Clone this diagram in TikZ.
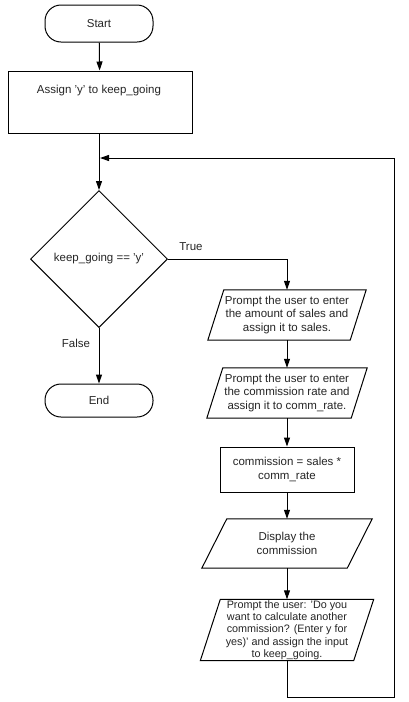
\documentclass[tikz,border=0pt]{standalone}
\usepackage{fontspec}
\setmainfont{Liberation Sans}
\usetikzlibrary{shapes.geometric,arrows.meta}
\newcommand{\paradraw}[2]{\draw[line width=1pt, line join=miter] ([xshift=#2]#1.north west) -- ([xshift=#2]#1.north east) -- ([xshift=-#2]#1.south east) -- ([xshift=-#2]#1.south west) -- cycle;}
\begin{document}
\begin{tikzpicture}[x=1pt,y=-1pt,
  txt/.style={font=\fontsize{11.5}{13.6}\selectfont, align=center, text=black!85},
  term/.style={txt, draw, line width=1pt, rounded corners=16pt, minimum width=108pt, inner sep=0pt},
  proc/.style={txt, draw, line width=1pt, rectangle, inner sep=0pt},
  io/.style={txt, inner sep=0pt},
  dec/.style={txt, draw, line width=1pt, diamond, aspect=1, minimum width=137pt, minimum height=137pt, inner sep=0pt},
  arr/.style={line width=1pt, -{Triangle[length=9pt,width=6pt]}}
]
\useasboundingbox (0,0) rectangle (408,702);
\fill[white] (0,0) rectangle (408,702);

\node[term, minimum height=37pt] (start) at (99,23.5) {Start};
\node[proc, minimum width=184pt, minimum height=62pt] (assign) at (100,102) {};
\node[txt] (assigntxt) at (99,91) {Assign 'y' to keep\_going};
\node[dec] (dec) at (99,259) {keep\_going == 'y'};
\node[term, minimum height=33pt] (end) at (99,400.5) {End};

\node[io, minimum width=142pt, minimum height=50pt] (p1) at (287,315) {Prompt the user to enter\\the amount of sales and\\assign it to sales.};
\paradraw{p1}{8pt}
\node[io, minimum width=144pt, minimum height=50pt] (p2) at (287,393) {Prompt the user to enter\\the commission rate and\\assign it to comm\_rate.};
\paradraw{p2}{8pt}
\node[proc, minimum width=134pt, minimum height=45pt] (comm) at (287,469.5) {commission = sales *\\comm\_rate};
\node[io, minimum width=145pt, minimum height=49pt] (disp) at (287,543.5) {Display the\\commission};
\paradraw{disp}{12.5pt}
\node[io, minimum width=153pt, minimum height=61pt, font=\fontsize{10.8}{12.3}\selectfont] (p4) at (287,630) {Prompt the user: 'Do you\\want to calculate another\\commission? (Enter y for\\yes)' and assign the input\\to keep\_going.};
\paradraw{p4}{10pt}

\coordinate (join) at (100,158);
\coordinate (bl) at (287,697);
\coordinate (br) at (394,697);
\coordinate (tr) at (394,158);

\draw[arr] (start) -- (assign);
\draw[arr] (assign.south -| dec.north) -- (dec.north);
\draw[arr] (dec.east) -- (p1.north |- dec.east) -- (p1.north);
\draw[arr] (dec.south) -- (end.north);
\draw[arr] (p1.south) -- (p2.north);
\draw[arr] (p2.south) -- (comm.north);
\draw[arr] (comm.south) -- (disp.north);
\draw[arr] (disp.south) -- (p4.north);
\draw[arr] (p4.south) -- (bl) -- (br) -- (tr) -- (join);

\node[txt] (truelbl) at (191,247) {True};
\node[txt] (falselbl) at (76,343) {False};
\end{tikzpicture}
\end{document}
